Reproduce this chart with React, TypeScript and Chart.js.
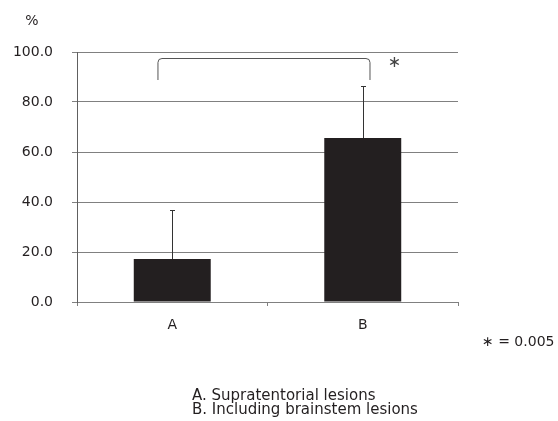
import React, { useEffect, useRef } from "react";
import { Chart, registerables } from "chart.js";

Chart.register(...registerables);

const categories = ["A", "B"];
const means = [17.2, 65.6];
const errors = [19.5, 20.9];
const yTicks = [0, 20, 40, 60, 80, 100];
// significance bracket: [xStart(category units), xEnd, yLow, yHigh]
const bracket = [-0.075, 1.038, 88.8, 97.6];
const starPos = [1.167, 95.6];
const pText = "\u2217 = 0.005";
const footnotes = ["A. Supratentorial lesions", "B. Including brainstem lesions"];
const unitLabel = "%";

const FONT = "'DejaVu Sans', Verdana, sans-serif";
const TEXT = "#231f20";

const extrasPlugin = {
  id: "extras",
  afterDatasetsDraw(chart: any) {
    const ctx = chart.ctx;
    const xs = chart.scales.x;
    const ys = chart.scales.y;
    const ca = chart.chartArea;
    ctx.save();
    // error bars
    ctx.strokeStyle = "#333";
    ctx.lineWidth = 1;
    means.forEach((m, i) => {
      const x = Math.round(xs.getPixelForValue(i)) + 0.5;
      const y0 = ys.getPixelForValue(m);
      const y1 = Math.round(ys.getPixelForValue(m + errors[i])) + 0.5;
      ctx.beginPath();
      ctx.moveTo(x, y0);
      ctx.lineTo(x, y1);
      ctx.moveTo(x - 2.5, y1);
      ctx.lineTo(x + 2.5, y1);
      ctx.stroke();
    });
    // bracket
    const step = xs.getPixelForValue(1) - xs.getPixelForValue(0);
    const bx0 = xs.getPixelForValue(0) + bracket[0] * step;
    const bx1 = xs.getPixelForValue(0) + bracket[1] * step;
    const byLow = ys.getPixelForValue(bracket[2]);
    const byHigh = Math.round(ys.getPixelForValue(bracket[3])) + 0.5;
    const r = 4;
    ctx.strokeStyle = "#555";
    ctx.beginPath();
    ctx.moveTo(bx0, byLow);
    ctx.lineTo(bx0, byHigh + r);
    ctx.quadraticCurveTo(bx0, byHigh, bx0 + r, byHigh);
    ctx.lineTo(bx1 - r, byHigh);
    ctx.quadraticCurveTo(bx1, byHigh, bx1, byHigh + r);
    ctx.lineTo(bx1, byLow);
    ctx.stroke();
    // star
    ctx.fillStyle = "#444";
    ctx.font = `16px ${FONT}`;
    ctx.textAlign = "center";
    ctx.textBaseline = "middle";
    ctx.fillText("\u2217", xs.getPixelForValue(0) + starPos[0] * step, ys.getPixelForValue(starPos[1]));
    // unit label
    ctx.fillStyle = TEXT;
    ctx.font = `14px ${FONT}`;
    ctx.fillText(unitLabel, ca.left - 45, ca.top - 31);
    // p-value
    ctx.textAlign = "left";
    ctx.fillText(pText, ca.right + 24, ca.bottom + 40);
    // footnotes
    ctx.font = `15px ${FONT}`;
    footnotes.forEach((t, i) => {
      ctx.fillText(t, ca.left + 115, ca.bottom + 94 + i * 14.5);
    });
    ctx.restore();
  },
};

export default function App() {
  const ref = useRef<HTMLCanvasElement>(null);
  useEffect(() => {
    if (!ref.current) return;
    const chart = new Chart(ref.current, {
      type: "bar",
      data: {
        labels: categories,
        datasets: [
          {
            data: means,
            backgroundColor: "#231f20",
            borderWidth: 0,
            barPercentage: 0.404,
            categoryPercentage: 1,
          },
        ],
      },
      options: {
        animation: false,
        responsive: false,
        maintainAspectRatio: false,
        layout: { padding: { top: 52, right: 100, bottom: 79, left: 0 } },
        plugins: { legend: { display: false }, tooltip: { enabled: false } },
        scales: {
          x: {
            offset: true,
            grid: {
              offset: true,
              drawOnChartArea: false,
              drawTicks: true,
              tickLength: 4,
              color: "#808080",
            },
            border: { display: true, color: "#808080", width: 1 },
            ticks: { color: TEXT, font: { family: FONT, size: 14 }, padding: 11 },
            afterFit: (s: any) => {
              s.height = 40;
            },
          },
          y: {
            min: 0,
            max: 100,
            afterBuildTicks: (s: any) => {
              s.ticks = yTicks.map((v) => ({ value: v }));
            },
            grid: { color: "#808080", tickLength: 5, drawTicks: true },
            border: { display: true, color: "#606060", width: 1 },
            ticks: {
              color: TEXT,
              font: { family: FONT, size: 14 },
              padding: 19,
              callback: (v: any) => Number(v).toFixed(1),
            },
            afterFit: (s: any) => {
              s.width = 77;
            },
          },
        },
      },
      plugins: [extrasPlugin],
    });
    return () => chart.destroy();
  }, []);
  return (
    <div style={{ position: "fixed", left: 0, top: 0, width: 558, height: 421, background: "#fff" }}>
      <canvas ref={ref} width={558} height={421} style={{ width: 558, height: 421 }} />
    </div>
  );
}
